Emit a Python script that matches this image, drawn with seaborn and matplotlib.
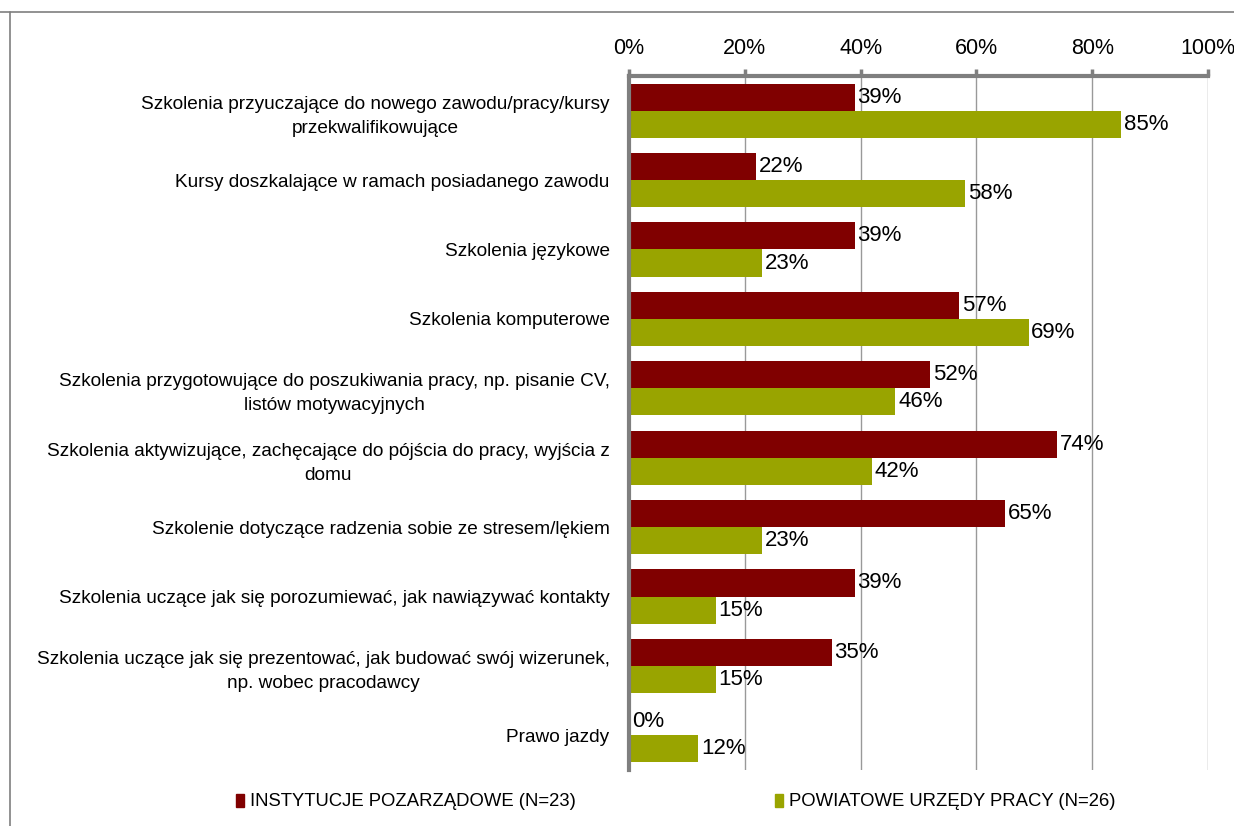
import matplotlib
matplotlib.use("Agg")
import matplotlib.pyplot as plt
import matplotlib.patches as mpatches
import pandas as pd
import seaborn as sns

categories = [
    "Szkolenia przyuczające do nowego zawodu/pracy/kursy\nprzekwalifikowujące",
    "Kursy doszkalające w ramach posiadanego zawodu",
    "Szkolenia językowe",
    "Szkolenia komputerowe",
    "Szkolenia przygotowujące do poszukiwania pracy, np. pisanie CV,\nlistów motywacyjnych",
    "Szkolenia aktywizujące, zachęcające do pójścia do pracy, wyjścia z\ndomu",
    "Szkolenie dotyczące radzenia sobie ze stresem/lękiem",
    "Szkolenia uczące jak się porozumiewać, jak nawiązywać kontakty",
    "Szkolenia uczące jak się prezentować, jak budować swój wizerunek,\nnp. wobec pracodawcy",
    "Prawo jazdy",
]
ngo_values = [39, 22, 39, 57, 52, 74, 65, 39, 35, 0]
pup_values = [85, 58, 23, 69, 46, 42, 23, 15, 15, 12]
series = ["INSTYTUCJE POZARZĄDOWE (N=23)", "POWIATOWE URZĘDY PRACY (N=26)"]
colors = ["#800000", "#99A400"]

df = pd.DataFrame({
    "cat": categories * 2,
    "val": ngo_values + pup_values,
    "grp": [series[0]] * len(categories) + [series[1]] * len(categories),
})

sns.set_style("white")
plt.rcParams["font.family"] = ["Liberation Sans", "DejaVu Sans"]
plt.rcParams["text.color"] = "black"
plt.rcParams["xtick.color"] = "black"
plt.rcParams["ytick.color"] = "black"

fig = plt.figure(figsize=(12.34, 8.26), dpi=100)
ax = fig.add_axes([629 / 1234, 1 - 770 / 826, (1208 - 629) / 1234, (770 - 76) / 826])

sns.barplot(data=df, y="cat", x="val", hue="grp", orient="h", palette=colors,
            width=0.78, saturation=1, linewidth=0, ax=ax, legend=False)

ax.set_xlim(0, 100)
ax.set_ylim(len(categories) - 0.5, -0.5)
ax.xaxis.tick_top()
ax.set_xticks(range(0, 101, 20))
ax.set_xticklabels([f"{t}%" for t in range(0, 101, 20)], fontsize=15.5)
ax.tick_params(axis="x", which="major", length=5, width=2.5, color="#7f7f7f",
               pad=7, direction="out")
ax.grid(axis="x", color="#999999", linewidth=1)
ax.set_axisbelow(True)
ax.set_xlabel("")
ax.set_ylabel("")

# category labels on the left, boundary ticks between groups
ax.set_yticks(range(len(categories)))
ax.set_yticklabels(categories, fontsize=13.7, linespacing=1.55, multialignment="center")
ax.tick_params(axis="y", which="major", length=0, pad=14)
ax.set_yticks([i - 0.5 for i in range(len(categories) + 1)], minor=True)
ax.tick_params(axis="y", which="minor", length=5, width=2.5, color="#7f7f7f", direction="out")

for side in ["right", "bottom"]:
    ax.spines[side].set_visible(False)
for side in ["left", "top"]:
    ax.spines[side].set_color("#7f7f7f")
    ax.spines[side].set_linewidth(3)

# value labels
for container in ax.containers:
    ax.bar_label(container, labels=[f"{v:.0f}%" for v in container.datavalues],
                 fontsize=16, padding=2)

# legend at the bottom
handles = [mpatches.Patch(color=c, label=s) for c, s in zip(colors, series)]
fig.legend(handles=handles[:1], loc="center left", bbox_to_anchor=(219 / 1234, 1 - 802 / 826),
           frameon=False, fontsize=13.3, handlelength=0.45, handleheight=0.7, handletextpad=0.35)
fig.legend(handles=handles[1:], loc="center left", bbox_to_anchor=(758 / 1234, 1 - 802 / 826),
           frameon=False, fontsize=13.3, handlelength=0.45, handleheight=0.7, handletextpad=0.35)

# chart area border
fig.add_artist(plt.Line2D([10 / 1234, 10 / 1234], [0, 1 - 12 / 826], transform=fig.transFigure,
                          color="#7f7f7f", linewidth=1.2))
fig.add_artist(plt.Line2D([0, 1], [1 - 12 / 826, 1 - 12 / 826], transform=fig.transFigure,
                          color="#7f7f7f", linewidth=1.2))

fig.savefig("out.png", dpi=100)
